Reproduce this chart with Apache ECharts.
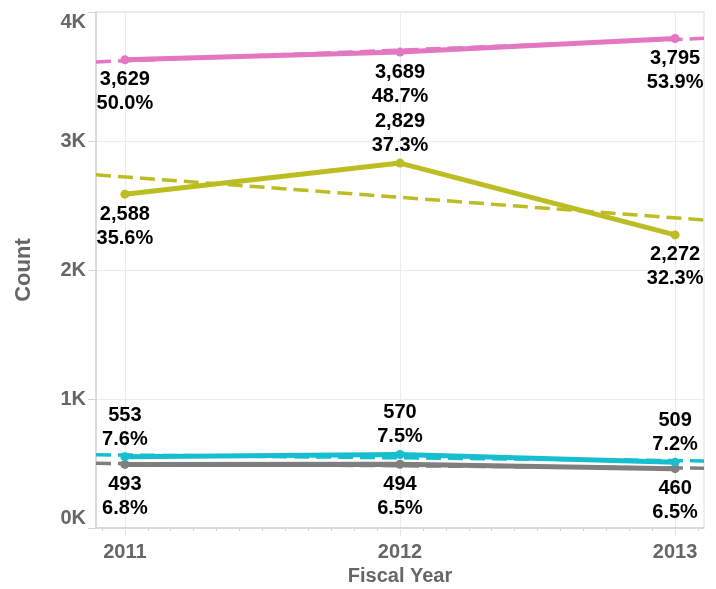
<!DOCTYPE html>
<html>
<head>
<meta charset="utf-8">
<title>Count by Fiscal Year</title>
<script src="https://cdn.jsdelivr.net/npm/echarts@6/dist/echarts.min.js"></script>
<style>
	html, body { margin: 0; padding: 0; background: #fff; }
	#chart { width: 716px; height: 589px; }
</style>
</head>
<body>
<div id="chart"></div>
<script>
var years = [2011, 2012, 2013];
var yTicks = [0, 1000, 2000, 3000, 4000];

var pinkCount = [3629, 3689, 3795];
var pinkPct = ['50.0%', '48.7%', '53.9%'];
var oliveCount = [2588, 2829, 2272];
var olivePct = ['35.6%', '37.3%', '32.3%'];
var cyanCount = [553, 570, 509];
var cyanPct = ['7.6%', '7.5%', '7.2%'];
var greyCount = [493, 494, 460];
var greyPct = ['6.8%', '6.5%', '6.5%'];

var pinkTrend = [3613, 3796];
var oliveTrend = [2738, 2388];
var cyanTrend = [568, 520];
var greyTrend = [501, 464];

var xMin = 2010.895;
var xMax = 2013.105;

(function() {

	var font = '"Liberation Sans", Arial, sans-serif';
	var axisGrey = '#666';

	// monthly tick marks along the bottom
	var monthTicks = [];
	for (var m = -1; m <= 25; m++) {
		if (m % 12 !== 0) monthTicks.push(2011 + m / 12);
	}

	function lineSeries(name, color, counts, pcts, topAt) {
		return {
			name: name,
			type: 'line',
			z: 3,
			symbol: 'circle',
			symbolSize: 9,
			data: counts.map(function(v, i) {
				var top = topAt.indexOf(i) > -1;
				return {
					value: [years[i], v],
					pct: pcts[i],
					label: { position: top ? 'top' : 'bottom', distance: top ? 1 : 3.5 }
				};
			}),
			itemStyle: { color: color },
			lineStyle: { color: color, width: 5 },
			label: {
				show: true,
				color: '#000',
				fontFamily: font,
				fontWeight: 'bold',
				fontSize: 20,
				lineHeight: 24,
				formatter: function(p) {
					return p.value[1].toLocaleString('en-US') + '\n' + p.data.pct;
				}
			},
			emphasis: { disabled: true },
			animation: false
		};
	}

	function trendSeries(name, color, ends) {
		return {
			name: name + ' trend',
			type: 'line',
			z: 4,
			silent: true,
			showSymbol: false,
			data: [[xMin, ends[0]], [xMax, ends[1]]],
			lineStyle: { color: color, width: 3.5, type: [15, 7] },
			animation: false
		};
	}

	var chart = echarts.init(document.getElementById('chart'));

	var option = {
		backgroundColor: '#fff',
		grid: {
			left: 96,
			right: 12,
			top: 12,
			bottom: 61,
			containLabel: false,
			outerBoundsMode: 'none',
			show: true,
			borderColor: '#dcdcdc',
			borderWidth: 1
		},
		xAxis: [{
			type: 'value',
			min: xMin,
			max: xMax,
			name: 'Fiscal Year',
			nameLocation: 'middle',
			nameGap: 37,
			nameTextStyle: { color: axisGrey, fontFamily: font, fontWeight: 'bold', fontSize: 20 },
			axisLine: { show: true, lineStyle: { color: '#d4d4d4', width: 1.5 } },
			axisTick: { show: true, length: 8, customValues: years, lineStyle: { color: '#e4e4e4' } },
			axisLabel: {
				customValues: years,
				margin: 14,
				color: axisGrey,
				fontFamily: font,
				fontWeight: 'bold',
				fontSize: 20,
				formatter: function(v) { return String(Math.round(v)); }
			},
			splitLine: { show: true, lineStyle: { color: '#ebebeb' } }
		}, {
			type: 'value',
			min: xMin,
			max: xMax,
			position: 'bottom',
			axisLine: { show: false },
			axisTick: { show: true, length: 3, customValues: monthTicks, lineStyle: { color: '#d0d0d0' } },
			axisLabel: { show: false },
			splitLine: { show: false }
		}],
		yAxis: {
			type: 'value',
			min: yTicks[0],
			max: yTicks[yTicks.length - 1],
			interval: 1000,
			name: 'Count',
			nameLocation: 'middle',
			nameGap: 61,
			nameTextStyle: { color: axisGrey, fontFamily: font, fontWeight: 'bold', fontSize: 22 },
			axisLine: { show: true, lineStyle: { color: '#d4d4d4', width: 1.5 } },
			axisTick: { show: true, length: 8, lineStyle: { color: '#d4d4d4' } },
			axisLabel: {
				margin: 10,
				color: axisGrey,
				fontFamily: font,
				fontWeight: 'bold',
				fontSize: 20,
				verticalAlignMinLabel: 'bottom',
				verticalAlignMaxLabel: 'top',
				formatter: function(v) { return (v / 1000) + 'K'; }
			},
			splitLine: { show: true, lineStyle: { color: '#ebebeb' } }
		},
		series: [
			lineSeries('Grey', '#7f7f7f', greyCount, greyPct, []),
			lineSeries('Cyan', '#17becf', cyanCount, cyanPct, [0, 1, 2]),
			lineSeries('Olive', '#bcbd22', oliveCount, olivePct, [1]),
			lineSeries('Pink', '#e377c2', pinkCount, pinkPct, []),
			trendSeries('Grey', '#7f7f7f', greyTrend),
			trendSeries('Cyan', '#17becf', cyanTrend),
			trendSeries('Olive', '#bcbd22', oliveTrend),
			trendSeries('Pink', '#e377c2', pinkTrend)
		]
	};

	chart.setOption(option);

	window.addEventListener('resize', function() {
		chart.resize();
	});

})();
</script>
</body>
</html>
